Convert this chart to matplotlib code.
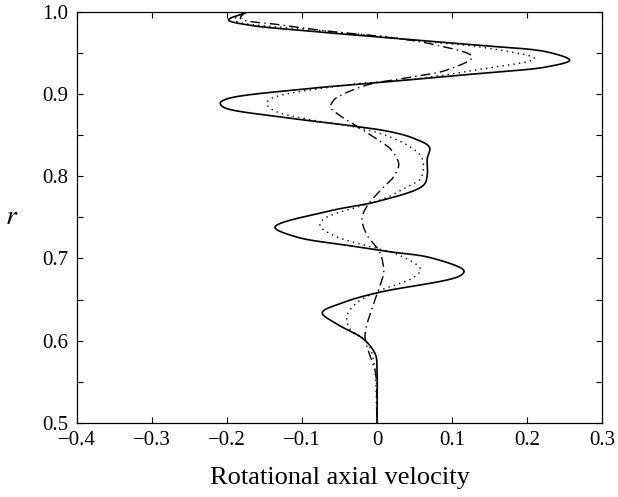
import numpy as np
import matplotlib.pyplot as plt
from matplotlib.ticker import MultipleLocator

# solid curve (r, velocity)
solid_r = [1.0, 0.990, 0.984, 0.976, 0.968, 0.959, 0.951, 0.941, 0.933, 0.925,
           0.914, 0.907, 0.894, 0.889, 0.884, 0.872, 0.862, 0.854, 0.846, 0.835,
           0.821, 0.801, 0.789, 0.770, 0.758, 0.738, 0.726, 0.716, 0.708, 0.701,
           0.685, 0.679, 0.659, 0.648, 0.634, 0.620, 0.602, 0.583, 0.565, 0.5]
solid_v = [-0.171, -0.198, -0.173, -0.085, 0.018, 0.138, 0.227, 0.257, 0.227, 0.138,
           0.004, -0.085, -0.200, -0.209, -0.205, -0.129, -0.040, 0.018, 0.049, 0.070,
           0.067, 0.067, 0.062, 0.004, -0.062, -0.136, -0.107, -0.040, 0.018, 0.071,
           0.116, 0.111, 0.004, -0.040, -0.073, -0.053, -0.018, -0.002, 0.0, 0.0]

# dotted curve
dot_r = [1.0, 0.990, 0.978, 0.969, 0.965, 0.957, 0.943, 0.930, 0.918, 0.911,
         0.894, 0.888, 0.880, 0.868, 0.860, 0.852, 0.838, 0.825, 0.813, 0.797,
         0.787, 0.774, 0.766, 0.748, 0.740, 0.728, 0.713, 0.705, 0.687, 0.677,
         0.661, 0.646, 0.630, 0.614, 0.598, 0.573, 0.5]
dot_v = [-0.175, -0.190, -0.085, 0.018, 0.049, 0.138, 0.210, 0.138, 0.049, -0.040,
         -0.142, -0.147, -0.138, -0.085, -0.031, 0.004, 0.040, 0.058, 0.062, 0.058,
         0.040, 0.013, -0.013, -0.071, -0.076, -0.058, -0.004, 0.027, 0.058, 0.049,
         0.004, -0.027, -0.040, -0.036, -0.013, -0.004, 0.0]

# dash-dot curve
dd_r = [1.0, 0.992, 0.984, 0.976, 0.970, 0.961, 0.945, 0.929, 0.921, 0.911,
        0.896, 0.892, 0.884, 0.876, 0.858, 0.837, 0.833, 0.815, 0.799, 0.787,
        0.764, 0.748, 0.728, 0.707, 0.683, 0.675, 0.646, 0.606, 0.581, 0.561, 0.5]
dd_v = [-0.175, -0.182, -0.129, -0.062, 0.004, 0.071, 0.127, 0.093, 0.049, -0.013,
        -0.053, -0.058, -0.062, -0.053, -0.022, 0.013, 0.018, 0.029, 0.022, 0.009,
        -0.013, -0.020, -0.013, 0.004, 0.009, 0.007, -0.004, -0.016, -0.009, -0.002, 0.0]

# rough pixel scale of the axes, only used to space the spline knots
SX, SY = 750.0, 820.0


def smooth(r, v, steps=24):
    'Centripetal Catmull-Rom through the read points.'
    p = np.column_stack([np.array(v) * SX, np.array(r) * SY])
    p = np.vstack([2 * p[0] - p[1], p, 2 * p[-1] - p[-2]])
    out = []
    for i in range(1, len(p) - 2):
        p0, p1, p2, p3 = p[i - 1], p[i], p[i + 1], p[i + 2]
        t0 = 0.0
        t1 = t0 + np.linalg.norm(p1 - p0) ** 0.5 + 1e-9
        t2 = t1 + np.linalg.norm(p2 - p1) ** 0.5 + 1e-9
        t3 = t2 + np.linalg.norm(p3 - p2) ** 0.5 + 1e-9
        t = np.linspace(t1, t2, steps, endpoint=False)[:, None]
        a1 = (t1 - t) / (t1 - t0) * p0 + (t - t0) / (t1 - t0) * p1
        a2 = (t2 - t) / (t2 - t1) * p1 + (t - t1) / (t2 - t1) * p2
        a3 = (t3 - t) / (t3 - t2) * p2 + (t - t2) / (t3 - t2) * p3
        b1 = (t2 - t) / (t2 - t0) * a1 + (t - t0) / (t2 - t0) * a2
        b2 = (t3 - t) / (t3 - t1) * a2 + (t - t1) / (t3 - t1) * a3
        out.append((t2 - t) / (t2 - t1) * b1 + (t - t1) / (t2 - t1) * b2)
    out.append(p[-2][None, :])
    out = np.vstack(out)
    return out[:, 0] / SX, out[:, 1] / SY


plt.rcParams['font.family'] = ['Liberation Serif', 'DejaVu Serif']
plt.rcParams['mathtext.fontset'] = 'stix'

fig = plt.figure(figsize=(6.18, 4.97), dpi=100)
ax = fig.add_axes([0.1246, 0.149, 0.8495, 0.8275])

x, y = smooth(solid_r, solid_v)
ax.plot(x, y, '-', color='k', lw=1.2)
x, y = smooth(dot_r, dot_v)
ax.plot(x, y, color='k', lw=1.0, linestyle=(0, (1, 3)))
x, y = smooth(dd_r, dd_v)
ax.plot(x, y, color='k', lw=1.0, linestyle=(0, (7, 3, 1, 3)))

ax.set_xlim(-0.4, 0.3)
ax.set_ylim(0.5, 1.0)
ax.yaxis.set_minor_locator(MultipleLocator(0.05))
ax.set_xticks([-0.4, -0.3, -0.2, -0.1, 0, 0.1, 0.2, 0.3])
ax.set_xticklabels(['\u22120.4', '\u22120.3', '\u22120.2', '\u22120.1', '0', '0.1', '0.2', '0.3'])
ax.set_yticks([0.5, 0.6, 0.7, 0.8, 0.9, 1.0])
ax.set_yticklabels(['0.5', '0.6', '0.7', '0.8', '0.9', '1.0'])
ax.tick_params(which='both', direction='in', top=True, right=True,
               length=4, width=0.8, labelsize=15, pad=6)
for side in ax.spines.values():
    side.set_linewidth(0.9)

ax.set_xlabel('Rotational axial velocity', fontsize=19, labelpad=12)
ax.set_ylabel('$r$', fontsize=20, rotation=0, labelpad=22, va='center')

fig.savefig('out.png', dpi=100)
